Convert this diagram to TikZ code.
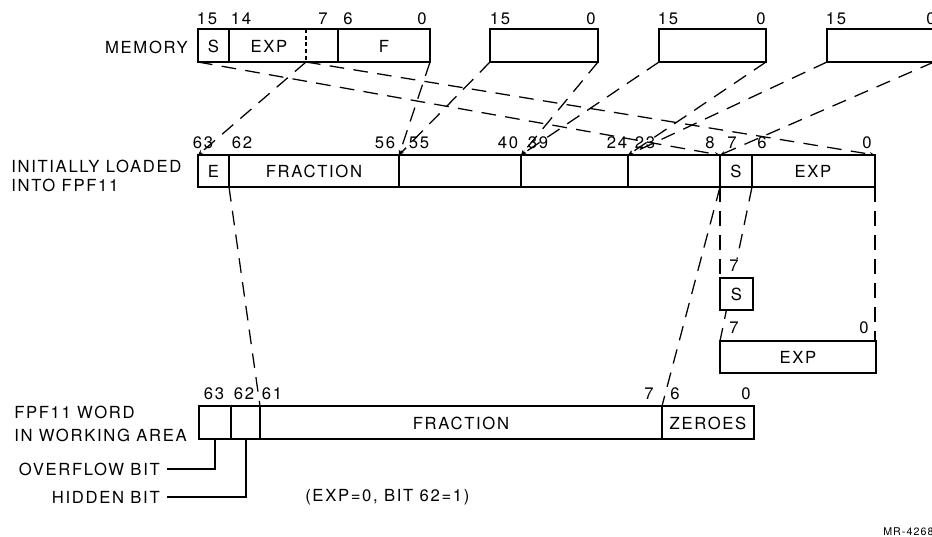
\documentclass[tikz,border=0pt]{standalone}
\usepackage{fontspec}
\setmainfont{TeX Gyre Heros}[LetterSpace=10]
\usetikzlibrary{arrows.meta}
\begin{document}
\begin{tikzpicture}[x=0.75pt,y=-0.75pt,
  boxline/.style={line width=1.5pt},
  divline/.style={line width=1pt},
  mapline/.style={line width=0.95pt, dash pattern=on 11pt off 7pt},
  tipped/.style={-{Stealth[length=4pt,width=3pt]}},
  lbl/.style={font=\fontsize{12.5}{14}\selectfont, inner sep=0pt},
  small/.style={font=\fontsize{8}{9}\selectfont, inner sep=0pt}]
\useasboundingbox (0,0) rectangle (932,536);
% ---------- coordinates ----------
\coordinate (m1a) at (198,62);
\coordinate (m1d) at (306,62);
\coordinate (m1e) at (430,62);
\coordinate (m2a) at (490,62);
\coordinate (m2b) at (598,62);
\coordinate (m3a) at (659,62);
\coordinate (m3b) at (766,62);
\coordinate (m4a) at (827,62);
\coordinate (m4b) at (934,62);
\coordinate (t63) at (198,155);
\coordinate (t56) at (399,155);
\coordinate (t40) at (521,155);
\coordinate (t24) at (628,155);
\coordinate (t8) at (720,155);
\coordinate (t0) at (875,155);
\coordinate (b62) at (229,187);
\coordinate (b8) at (720,187);
\coordinate (b7) at (752,187);
\coordinate (b0) at (875,187);
\coordinate (s7) at (720,278);
\coordinate (e7) at (720,341);
\coordinate (e0) at (875,341);
\coordinate (w61) at (260,406);
\coordinate (w6) at (662,406);
% ---------- mapping lines ----------
\draw[mapline,tipped] (m1a) -- (t8);
\draw[mapline,tipped] (m1d) -- (t0);
\draw[mapline,tipped] (m1d) -- (t63);
\draw[mapline,tipped] (m1e) -- (t56);
\draw[mapline,tipped] (m2a) -- (t56);
\draw[mapline,tipped] (m2b) -- (t40);
\draw[mapline,tipped] (m3a) -- (t40);
\draw[mapline,tipped] (m3b) -- (t24);
\draw[mapline,tipped] (m4a) -- (t24);
\draw[mapline,tipped] (m4b) -- (t8);
\draw[mapline] (b62) -- (w61);
\draw[mapline] (b8) -- (w6);
\draw[mapline] (b8) -- (s7);
\draw[mapline] (b7) -- (e7);
\draw[mapline] (b0) -- (e0);
% ---------- memory words ----------
\node[lbl,anchor=east] (memlbl) at (188,47) {MEMORY};
\draw[boxline] (198,29) rectangle (430,62);
\draw[divline] (229,29) -- (229,62);
\draw[divline] (338,29) -- (338,62);
\draw[divline, dash pattern=on 3pt off 2pt] (306,29) -- (306,62);
\node[lbl] (mS) at (213.5,46) {S};
\node[lbl] (mEXP) at (269,46) {EXP};
\node[lbl] (mF) at (384,46) {F};
\node[lbl] (m15) at (207,19) {15};
\node[lbl] (m14) at (241,19) {14};
\node[lbl] (m7) at (323,19) {7};
\node[lbl] (m6) at (348,19) {6};
\node[lbl] (m0) at (422,19) {0};
\draw[boxline] (490,29) rectangle (598,62);
\node[lbl] (w2h) at (500,19) {15};
\node[lbl] (w2l) at (591,19) {0};
\draw[boxline] (659,29) rectangle (766,62);
\node[lbl] (w3h) at (668,19) {15};
\node[lbl] (w3l) at (761,19) {0};
\draw[boxline] (827,29) rectangle (934,62);
\node[lbl] (w4h) at (836,19) {15};
\node[lbl] (w4l) at (931,19) {0};
% ---------- initially loaded ----------
\node[lbl,anchor=west] (il1) at (11,166) {INITIALLY LOADED};
\node[lbl,anchor=west] (il2) at (11,185) {INTO FPF11};
\draw[boxline] (198,155) rectangle (875,187);
\foreach \xx in {229,399,521,628,720,752} \draw[divline] (\xx,155) -- (\xx,187);
\node[lbl] (iE) at (213.5,171) {E};
\node[lbl] (iFR) at (314,171) {FRACTION};
\node[lbl] (iS) at (736,171) {S};
\node[lbl] (iEXP) at (813,171) {EXP};
\node[lbl] (i63) at (203,143) {63};
\node[lbl] (i62) at (242,143) {62};
\node[lbl] (i56) at (385,143) {56};
\node[lbl] (i55) at (419,143) {55};
\node[lbl] (i40) at (508,143) {40};
\node[lbl] (i39) at (538,143) {39};
\node[lbl] (i24) at (617,143) {24};
\node[lbl] (i23) at (645,143) {23};
\node[lbl] (i8) at (710,143) {8};
\node[lbl] (i7) at (732,143) {7};
\node[lbl] (i6) at (762,143) {6};
\node[lbl] (i0) at (867,143) {0};
% ---------- S and EXP boxes ----------
\draw[boxline,fill=white] (720,278) rectangle (753,310);
\node[lbl] (sS) at (736.5,294) {S};
\node[lbl,fill=white,inner sep=1pt] (s7l) at (734,266) {7};
\draw[boxline] (720,341) rectangle (876,373);
\node[lbl] (eEXP) at (798,357) {EXP};
\node[lbl] (e7l) at (734,328) {7};
\node[lbl] (e0l) at (864,328) {0};
% ---------- working area ----------
\node[lbl,anchor=west] (wa1) at (14,412) {FPF11 WORD};
\node[lbl,anchor=west] (wa2) at (14,435) {IN WORKING AREA};
\draw[boxline] (199,406) rectangle (754,439);
\foreach \xx in {231,260,662} \draw[divline] (\xx,406) -- (\xx,439);
\node[lbl] (wFR) at (461,423) {FRACTION};
\node[lbl] (wZ) at (708,423) {ZEROES};
\node[lbl] (w63) at (214,394) {63};
\node[lbl] (w62) at (244,394) {62};
\node[lbl] (w61l) at (272,394) {61};
\node[lbl] (w7) at (649,394) {7};
\node[lbl] (w6l) at (675,394) {6};
\node[lbl] (w0) at (746,394) {0};
\node[lbl,anchor=east] (ovf) at (160,469) {OVERFLOW BIT};
\node[lbl,anchor=east] (hid) at (160,497) {HIDDEN BIT};
\draw[divline] (ovf.east) ++(7,0) -| (215,439);
\draw[divline] (hid.east) ++(7,0) -| (246,439);
\node[lbl,anchor=west] (note) at (305,497) {(EXP=0, BIT 62=1)};
\node[small,anchor=west] (mr) at (883,532) {MR-4268};
\end{tikzpicture}
\end{document}
